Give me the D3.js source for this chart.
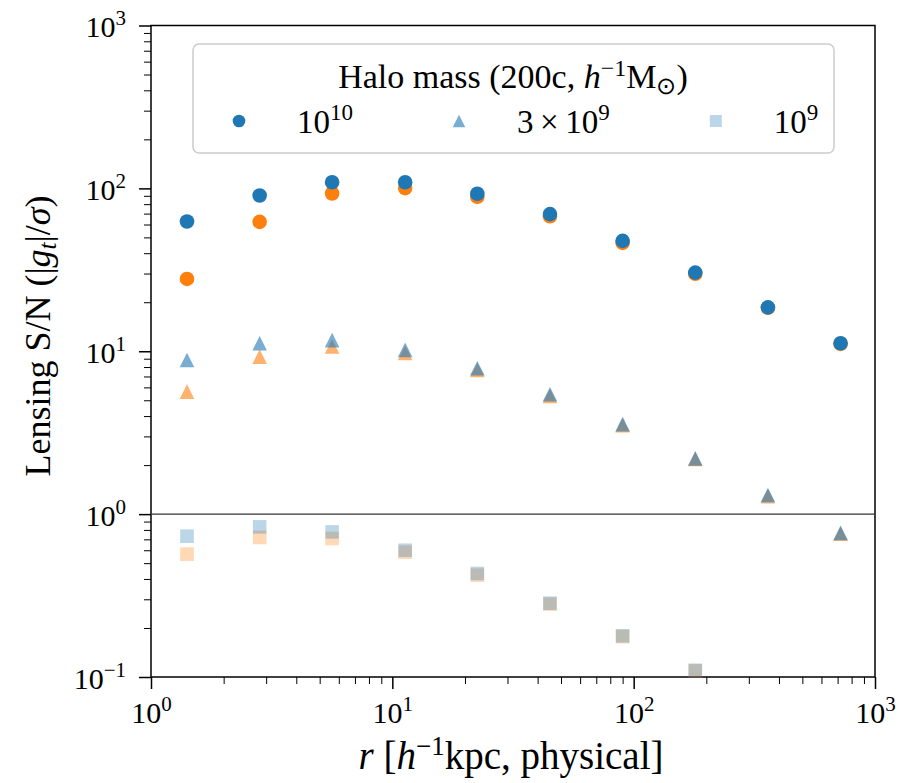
<!DOCTYPE html>
<html lang="en">
<head>
<meta charset="UTF-8">
<title>Lensing S/N</title>
<script src="https://d3js.org/d3.v7.min.js"></script>
<style>
    body { margin: 0; background: #fff; }
    svg { display: block; }
    svg text { font-family: "Liberation Serif", "Times New Roman", serif; }
</style>
</head>
<body>
<svg id="chart" width="899" height="783"></svg>
<script>
// radial bins, h^-1 kpc (physical)
const radii = [1.41, 2.82, 5.63, 11.3, 22.5, 45, 90, 180, 360, 720];

// lensing S/N, blue and orange runs, one pair per halo mass
const blue1e10 = [62.6, 90.4, 109, 109, 92.7, 69.5, 47.6, 30.4, 18.6, 11.2];
const orange1e10 = [27.8, 62.3, 93, 100.4, 88.8, 67.4, 46.3, 29.9, 18.5, 11.1];
const blue3e9 = [8.84, 11.2, 11.7, 10.2, 7.86, 5.44, 3.57, 2.20, 1.31, 0.767];
const orange3e9 = [5.65, 9.27, 10.7, 9.77, 7.67, 5.31, 3.52, 2.18, 1.29, 0.759];
const blue1e9 = [0.732, 0.835, 0.778, 0.60, 0.432, 0.284, 0.179, 0.11, null, null];
const orange1e9 = [0.568, 0.719, 0.709, 0.584, 0.422, 0.28, 0.177, 0.109, null, null];

// legend labels: [base, exponent]
const massLabels = [["10", "10"], ["3\u2009\u00d7\u200910", "9"], ["10", "9"]];
const xTickExps = [0, 1, 2, 3];
const yTickExps = [-1, 0, 1, 2, 3];

function program() {
    const W = 899, H = 783;
    const margin = { top: 25.5, right: 24, bottom: 106, left: 151 };
    const iw = W - margin.left - margin.right;
    const ih = H - margin.top - margin.bottom;

    const blue = "#1f77b4", orange = "#ff7f0e";
    const serif = "'Liberation Serif', 'Times New Roman', serif";

    const svg = d3.select("#chart");
    const g = svg.append("g").attr("transform", `translate(${margin.left},${margin.top})`);

    const x = d3.scaleLog().domain([1, 1000]).range([0, iw]);
    const y = d3.scaleLog().domain([0.1, 1000]).range([ih, 0]);

    const minorX = [], minorY = [];
    xTickExps.slice(0, -1).forEach(e => { for (let m = 2; m < 10; m++) minorX.push(m * Math.pow(10, e)); });
    yTickExps.slice(0, -1).forEach(e => { for (let m = 2; m < 10; m++) minorY.push(m * Math.pow(10, e)); });

    // minor ticks
    g.append("g").attr("transform", `translate(0,${ih})`)
        .call(d3.axisBottom(x).tickValues(minorX).tickSize(7).tickFormat(""))
        .call(a => a.select(".domain").remove())
        .call(a => a.selectAll("line").attr("stroke-width", 1));
    g.append("g")
        .call(d3.axisLeft(y).tickValues(minorY).tickSize(7).tickFormat(""))
        .call(a => a.select(".domain").remove())
        .call(a => a.selectAll("line").attr("stroke-width", 1));

    // major ticks with power-of-ten labels
    const xAxis = g.append("g").attr("transform", `translate(0,${ih})`)
        .call(d3.axisBottom(x).tickValues(xTickExps.map(e => Math.pow(10, e))).tickSize(12).tickFormat(""))
        .attr("font-family", serif)
        .call(a => a.select(".domain").remove());
    xAxis.selectAll("line").attr("stroke-width", 1.5);
    xAxis.selectAll(".tick").each(function (d) {
        const t = d3.select(this).select("text")
            .attr("y", 46).attr("dy", null).attr("font-family", serif)
            .attr("fill", "#000").attr("font-size", 30).attr("text-anchor", "middle");
        t.append("tspan").text("10");
        t.append("tspan").attr("dy", -12).attr("font-size", 21).text(Math.round(Math.log10(d)));
    });

    const yAxis = g.append("g")
        .call(d3.axisLeft(y).tickValues(yTickExps.map(e => Math.pow(10, e))).tickSize(12).tickFormat(""))
        .attr("font-family", serif)
        .call(a => a.select(".domain").remove());
    yAxis.selectAll("line").attr("stroke-width", 1.5);
    yAxis.selectAll(".tick").each(function (d) {
        const e = Math.round(Math.log10(d));
        const t = d3.select(this).select("text")
            .attr("x", -25).attr("dy", 11).attr("font-family", serif)
            .attr("fill", "#000").attr("font-size", 30).attr("text-anchor", "end");
        t.append("tspan").text("10");
        t.append("tspan").attr("dy", -12).attr("font-size", 21).text(e < 0 ? "\u2212" + (-e) : e);
    });

    // frame
    g.append("rect").attr("width", iw).attr("height", ih)
        .attr("fill", "none").attr("stroke", "#000").attr("stroke-width", 1.5);

    // S/N = 1 reference line
    g.append("line").attr("x1", 0).attr("x2", iw).attr("y1", y(1)).attr("y2", y(1))
        .attr("stroke", "#333").attr("stroke-width", 1.3);

    const tri = s => `M0,${-s}L${s},${s}L${-s},${s}Z`;
    const sq = s => `M${-s},${-s}H${s}V${s}H${-s}Z`;

    const layers = [
        { vals: orange1e9, color: orange, op: 0.3, shape: "sq" },
        { vals: blue1e9, color: blue, op: 0.3, shape: "sq" },
        { vals: orange3e9, color: orange, op: 0.6, shape: "tri" },
        { vals: blue3e9, color: blue, op: 0.6, shape: "tri" },
        { vals: orange1e10, color: orange, op: 1, shape: "circ" },
        { vals: blue1e10, color: blue, op: 1, shape: "circ" }
    ];

    layers.forEach(l => {
        const pts = radii.map((r, i) => ({ r: r, v: l.vals[i] })).filter(p => p.v != null);
        const sel = g.append("g").selectAll("path").data(pts).join("path")
            .attr("transform", p => `translate(${x(p.r)},${y(p.v)})`)
            .attr("fill", l.color).attr("fill-opacity", l.op);
        if (l.shape === "circ") sel.attr("d", d3.symbol().type(d3.symbolCircle).size(Math.PI * 7.3 * 7.3));
        else if (l.shape === "tri") sel.attr("d", tri(7.3));
        else sel.attr("d", sq(6.8));
    });

    // legend
    const lg = g.append("g").attr("transform", `translate(${193 - margin.left},${44 - margin.top})`);
    lg.append("rect").attr("width", 641).attr("height", 109).attr("rx", 6)
        .attr("fill", "#fff").attr("fill-opacity", 0.8).attr("stroke", "#cccccc").attr("stroke-width", 1.5);
    const title = lg.append("text").attr("x", 320).attr("y", 44).attr("text-anchor", "middle")
        .attr("font-size", 34).attr("fill", "#000");
    title.append("tspan").text("Halo mass (200c, ");
    title.append("tspan").attr("font-style", "italic").text("h");
    title.append("tspan").attr("dy", -12).attr("font-size", 24).text("\u22121");
    title.append("tspan").attr("dy", 12).text("M");
    title.append("tspan").attr("dy", 6).attr("font-size", 24).text("\u2299");
    title.append("tspan").attr("dy", -6).text(")");

    const shapes = ["circ", "tri", "sq"];
    const ops = [1, 0.6, 0.3];
    let mx = 46;
    massLabels.forEach((lab, i) => {
        const item = lg.append("g").attr("transform", `translate(${mx},77)`);
        const m = item.append("path").attr("fill", blue).attr("fill-opacity", ops[i]);
        if (shapes[i] === "circ") m.attr("d", d3.symbol().type(d3.symbolCircle).size(Math.PI * 6.3 * 6.3));
        else if (shapes[i] === "tri") m.attr("d", tri(6.3));
        else m.attr("d", sq(6));
        const t = item.append("text").attr("x", 58).attr("y", 12)
            .attr("font-size", 33).attr("fill", "#000");
        t.append("tspan").text(lab[0]);
        t.append("tspan").attr("dy", -13).attr("font-size", 23).text(lab[1]);
        mx += 58 + t.node().getComputedTextLength() + 106;
    });

    // axis titles
    const xl = svg.append("text").attr("x", 511).attr("y", 769).attr("text-anchor", "middle")
        .attr("font-size", 39).attr("fill", "#000");
    xl.append("tspan").attr("font-style", "italic").text("r");
    xl.append("tspan").text(" [");
    xl.append("tspan").attr("font-style", "italic").text("h");
    xl.append("tspan").attr("dy", -14).attr("font-size", 27).text("\u22121");
    xl.append("tspan").attr("dy", 14).text("kpc, physical]");

    const yl = svg.append("text").attr("transform", "translate(50,336) rotate(-90)")
        .attr("text-anchor", "middle").attr("font-size", 36).attr("fill", "#000");
    yl.append("tspan").text("Lensing S/N (|");
    yl.append("tspan").attr("font-style", "italic").text("g");
    yl.append("tspan").attr("dy", 6).attr("font-size", 25).attr("font-style", "italic").text("t");
    yl.append("tspan").attr("dy", -6).text("|/");
    yl.append("tspan").attr("font-style", "italic").text("\u03c3");
    yl.append("tspan").text(")");
}

program();
</script>
</body>
</html>
